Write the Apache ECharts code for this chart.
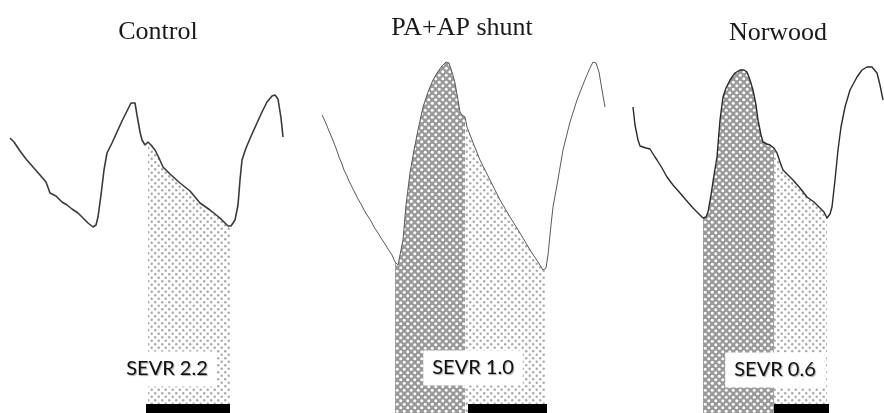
<!DOCTYPE html>
<html>
<head>
<meta charset="utf-8">
<script src="https://cdn.jsdelivr.net/npm/echarts@6/dist/echarts.min.js"></script>
<style>html,body{margin:0;padding:0;background:#fff}#c{width:884px;height:413px}</style>
</head>
<body>
<div id="c"></div>
<script>
// ---- Data (time in px-scale units, pressure read as vertical position, top = 0) ----
const panelTitles = ['Control', 'PA+AP shunt', 'Norwood'];
const sevrLabels = ['SEVR 2.2', 'SEVR 1.0', 'SEVR 0.6'];

const controlWave = [[10,138],[14,142],[20,151],[26,159],[33,167],[40,175],[46,182],[50,193],[56,196],[62,202],[67,205],[72,209],[78,213],[83,218],[88,223],[93,227],[96,225],[98,217],[101,195],[104,170],[107,153],[112,143],[117,132],[122,121],[127,111],[131,103],[133,101],[135,103],[137,115],[140,132],[142,140],[145,145],[148,142],[151,145],[155,150],[159,158],[163,167],[170,174],[180,183],[190,191],[200,203],[210,210],[220,218],[228,226],[231,226],[235,220],[238,205],[240,180],[242,160],[246,148],[252,134],[257,123],[262,112],[267,102],[272,96],[275,95],[278,99],[281,118],[283,137]];

const shuntWave = [[322,115],[324,119],[325,118],[327,126],[329,131],[330,130],[332,138],[334,143],[335,142],[337,151],[339,157],[340,156],[342,164],[344,170],[345,169],[347,176],[349,181],[350,180],[352,187],[355,193],[356,192],[358,199],[361,204],[362,203],[364,210],[367,215],[368,214],[371,221],[374,227],[375,226],[378,233],[381,238],[382,237],[385,244],[388,249],[389,248],[392,255],[395,262],[398,265],[400,263],[403,240],[406,205],[410,173],[414,150],[418,130],[423,107],[428,92],[433,80],[437,73],[442,66],[446,62],[449,63],[452,72],[455,83],[458,100],[460,112],[462,115],[465,117],[467,127],[472,140],[480,160],[490,180],[500,200],[510,217],[520,233],[530,250],[538,262],[543,270],[546,268],[548,255],[551,225],[553,207],[557,185],[563,150],[570,122],[577,100],[584,82],[590,68],[593,62],[596,63],[599,72],[602,90],[605,107]];

const norwoodWave = [[633,107],[635,125],[638,140],[640,146],[642,147],[646,148],[650,149],[652,151],[655,157],[657,160],[662,168],[667,177],[673,185],[680,193],[686,200],[693,208],[698,213],[703,218],[706,217],[708,212],[711,195],[714,175],[717,157],[720,120],[723,97],[726,88],[730,80],[735,73],[740,70],[744,70],[747,72],[750,80],[753,90],[756,105],[758,120],[761,135],[763,142],[767,144],[770,145],[774,148],[777,153],[780,162],[783,170],[788,175],[793,180],[800,188],[807,197],[814,202],[820,208],[824,212],[827,218],[830,214],[832,207],[835,180],[838,150],[841,127],[845,107],[850,90],[857,77],[862,70],[867,67],[872,67],[877,73],[880,85],[883,100]];

// shaded intervals [start, end] : dense = systolic (crosshatch), light = diastolic (dots)
const controlLight = [148, 231];
const shuntDense = [395, 465];
const shuntLight = [465, 546];
const norwoodDense = [703, 774];
const norwoodLight = [774, 827];

// black time bars [start, end]
const timeBars = [[146,230],[468,547],[774,829]];
// label anchor points [x, y]
const labelAnchors = [[167,369],[473,368],[775,370]];
// title centres [x]
const titleCentres = [153, 457, 773];

// ---- Patterns ----
function dotPattern() {
  const c = document.createElement('canvas'); c.width = 7; c.height = 7;
  const g = c.getContext('2d');
  g.fillStyle = '#a8a8a8';
  g.beginPath(); g.arc(1.2,1.2,1.2,0,Math.PI*2); g.fill();
  g.beginPath(); g.arc(4.7,4.7,1.2,0,Math.PI*2); g.fill();
  return c;
}
function crossPattern() {
  const c = document.createElement('canvas'); c.width = 7; c.height = 7;
  const g = c.getContext('2d');
  g.fillStyle = '#999999'; g.fillRect(0,0,7,7);
  g.fillStyle = '#ffffff';
  [[1.75,1.75],[5.25,5.25],[5.25,-1.75],[-1.75,5.25]].forEach(([x,y])=>{
    g.beginPath(); g.arc(x, y, 1.5, 0, Math.PI*2); g.fill();
  });
  return c;
}
const dots = {image: dotPattern(), repeat: 'repeat'};
const cross = {image: crossPattern(), repeat: 'repeat'};

function slice(wave, range) {
  return wave.filter(p => p[0] >= range[0] && p[0] <= range[1]);
}
function shade(wave, range, fill) {
  return {
    type: 'line', data: slice(wave, range), showSymbol: false, silent: true,
    lineStyle: {width: 0}, areaStyle: {color: fill, opacity: 1, origin: 'end'}, z: 1
  };
}
function wave(data, color, width) {
  return {type: 'line', data, showSymbol: false, silent: true,
    lineStyle: {color, width}, z: 3};
}

const series = [
  shade(controlWave, controlLight, dots),
  shade(shuntWave, shuntDense, cross),
  shade(shuntWave, shuntLight, dots),
  shade(norwoodWave, norwoodDense, cross),
  shade(norwoodWave, norwoodLight, dots),
  wave(controlWave, '#3a3a3a', 1.6),
  wave(shuntWave, '#5a5a5a', 1),
  wave(norwoodWave, '#2a2a2a', 1.4),
  {
    type: 'custom', data: timeBars, z: 4, silent: true,
    renderItem: (params, api) => {
      const a = api.coord([api.value(0), 413]);
      const b = api.coord([api.value(1), 404]);
      return {type: 'rect', shape: {x: a[0], y: b[1], width: b[0]-a[0], height: a[1]-b[1]}, style: {fill: '#000'}};
    }
  },
  {
    type: 'scatter', symbol: 'circle', symbolSize: 0, z: 5, silent: true,
    itemStyle: {color: '#ffffff', opacity: 1},
    data: labelAnchors.map((p, i) => ({value: p, name: sevrLabels[i]})),
    label: {
      show: true, position: 'inside', formatter: p => p.name, opacity: 1,
      fontFamily: 'Lato', fontSize: 20, fontWeight: 'normal', color: '#111111', textBorderWidth: 0,
      textShadowColor: 'rgba(0,0,0,0.35)', textShadowBlur: 1, textShadowOffsetX: 1, textShadowOffsetY: 1,
      backgroundColor: '#ffffff', padding: [8, 9, 7, 9]
    }
  }
];

const chart = echarts.init(document.getElementById('c'), null, {renderer: 'canvas'});
chart.setOption({
  animation: false,
  backgroundColor: '#ffffff',
  title: panelTitles.map((t, i) => ({
    text: t, left: titleCentres[i], top: [14, 10, 15][i], textAlign: 'center',
    textStyle: {fontFamily: 'Liberation Serif', fontSize: 26, fontWeight: 'normal', color: '#1a1a1a'}
  })),
  grid: {left: 0, right: 0, top: 0, bottom: 0},
  xAxis: {type: 'value', min: 0, max: 884, show: false},
  yAxis: {type: 'value', min: 0, max: 413, inverse: true, show: false},
  series
});
</script>
</body>
</html>
